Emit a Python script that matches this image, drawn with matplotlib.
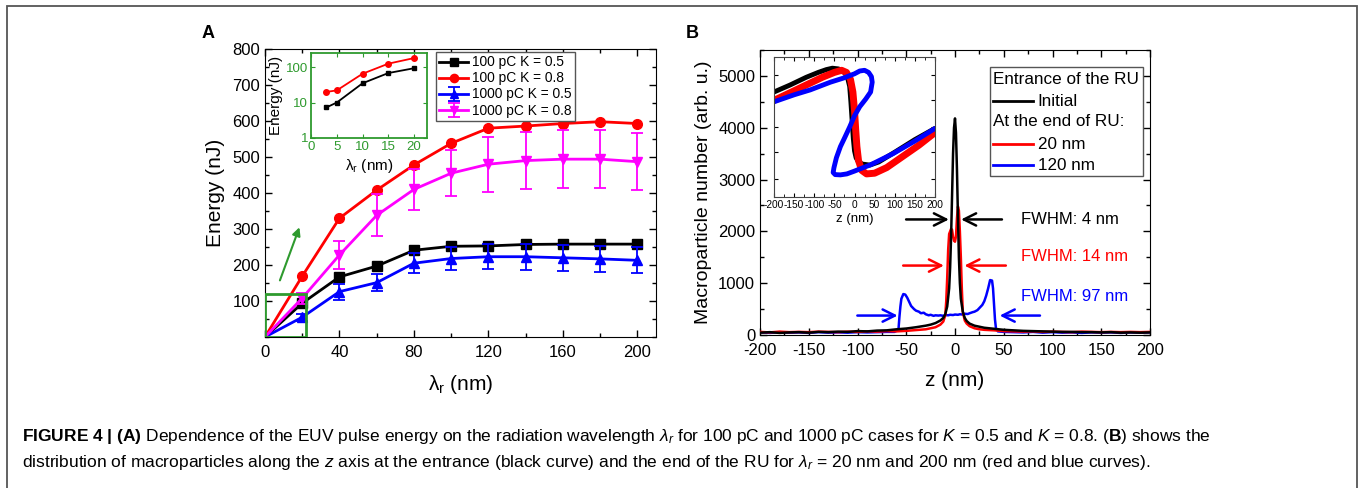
import matplotlib
matplotlib.use('Agg')
import matplotlib.pyplot as plt
from matplotlib.patches import Rectangle
from matplotlib.lines import Line2D
from matplotlib.ticker import MultipleLocator, FixedLocator, NullLocator, FixedFormatter

plt.rcParams['font.family'] = ['Liberation Sans', 'DejaVu Sans']
plt.rcParams['axes.unicode_minus'] = False
plt.rcParams['mathtext.fontset'] = 'custom'
plt.rcParams['mathtext.rm'] = 'Liberation Sans'
plt.rcParams['mathtext.it'] = 'Liberation Sans:italic'
plt.rcParams['mathtext.bf'] = 'Liberation Sans:bold'

# ---- panel A data ----
lam = [0, 20, 40, 60, 80, 100, 120, 140, 160, 180, 200]
e100_k05 = [0, 94, 167, 197, 241, 252, 253, 257, 258, 258, 258]
e100_k08 = [0, 169, 330, 408, 478, 538, 580, 586, 593, 598, 593]
e1000_k05 = [0, 55, 126, 151, 205, 218, 223, 223, 220, 217, 213]
err1000_k05 = [0, 10, 22, 24, 28, 32, 35, 36, 36, 36, 36]
e1000_k08 = [0, 108, 228, 338, 410, 455, 480, 490, 494, 494, 487]
err1000_k08 = [0, 15, 40, 58, 57, 64, 76, 79, 80, 80, 80]

# inset A (log scale)
lam_in = [3, 5, 10, 15, 20]
in_k05 = [7.3, 10, 35, 68, 93]
in_k08 = [20, 22, 65, 125, 180]

# ---- panel B data ----
z_init = [-200, -190, -180, -170, -160, -150, -140, -130, -120, -110, -100, -90, -80, -70, -60, -50,
          -40, -30, -25, -20, -15, -12, -10, -8, -6, -5, -4, -3, -2, -1, 0, 1, 2, 3, 4, 5, 6, 8, 10,
          12, 15, 20, 25, 30, 40, 50, 60, 70, 80, 90, 100, 110, 120, 130, 140, 150, 160, 170, 180, 190, 200]
n_init = [45, 55, 40, 50, 55, 45, 60, 55, 65, 60, 75, 70, 85, 90, 110, 125,
          150, 180, 200, 230, 280, 330, 400, 550, 900, 1300, 1900, 2700, 3500, 4000, 4180, 3900, 3200, 2300, 1500, 1000, 700, 450, 330,
          270, 220, 180, 160, 140, 120, 100, 90, 80, 75, 70, 65, 60, 60, 55, 55, 50, 55, 45, 50, 45, 50]

z_20 = [-200, -190, -180, -170, -160, -150, -140, -130, -120, -110, -100, -90, -80, -70, -60, -50, -40, -30,
        -25, -20, -15, -12, -10, -9, -8, -7, -6, -5, -4, -3, -2, -1, 0, 1, 2, 3, 4, 5, 6, 7, 8, 10, 12, 15,
        20, 25, 30, 40, 50, 60, 70, 80, 90, 100, 110, 120, 130, 140, 150, 160, 170, 180, 190, 200]
n_20 = [60, 50, 65, 55, 60, 55, 65, 60, 55, 65, 60, 70, 65, 75, 70, 80, 95, 110,
        130, 150, 200, 260, 380, 650, 1100, 1650, 1950, 2000, 2050, 2030, 1900, 1820, 1800, 1900, 2250, 2480, 2400, 2000, 1500, 900, 450, 280, 220, 170,
        130, 110, 100, 90, 75, 70, 65, 70, 60, 65, 60, 55, 65, 60, 55, 60, 55, 60, 55, 60]

z_120 = [-200, -190, -180, -170, -160, -150, -140, -130, -120, -110, -100, -90, -80, -70, -62, -58, -57, -56,
         -55, -53, -51, -49, -47, -45, -42, -40, -37, -35, -32, -30, -27, -25, -22, -20, -17, -15, -12, -10,
         -7, -5, -2, 0, 3, 5, 8, 10, 13, 15, 18, 20, 23, 25, 28, 30, 32, 34, 36, 38, 39, 40, 41, 42, 44, 50,
         60, 70, 80, 90, 100, 110, 120, 130, 140, 150, 160, 170, 180, 190, 200]
n_120 = [50, 40, 55, 45, 50, 40, 55, 45, 50, 45, 55, 50, 55, 60, 60, 100, 350, 550,
         700, 790, 780, 720, 640, 560, 500, 470, 450, 420, 430, 400, 380, 390, 370, 380, 375, 380, 370, 385,
         380, 390, 385, 395, 390, 400, 395, 410, 405, 420, 440, 450, 480, 520, 580, 650, 760, 900, 1060, 1050, 900, 600, 300, 130, 70, 60,
         55, 50, 60, 45, 55, 45, 50, 40, 50, 45, 50, 40, 50, 45, 50]

# inset B: phase-space bands (z, normalized momentum)
ps_z_init = [-200, -160, -120, -90, -70, -55, -40, -28, -18, -12, -9, -6, -3, 0, 4, 10, 20, 38, 60, 100, 150, 200]
ps_p_init = [0.75, 0.80, 0.855, 0.89, 0.91, 0.92, 0.915, 0.90, 0.86, 0.79, 0.68, 0.55, 0.42, 0.33, 0.28, 0.25,
             0.235, 0.228, 0.25, 0.32, 0.41, 0.49]
ps_z_20 = [-200, -160, -120, -80, -50, -32, -20, -10, -4, 0, 3, 6, 10, 18, 30, 50, 80, 120, 160, 200]
ps_p_20 = [0.69, 0.745, 0.80, 0.855, 0.89, 0.905, 0.89, 0.84, 0.75, 0.62, 0.48, 0.36, 0.26, 0.19, 0.165, 0.17,
           0.21, 0.29, 0.37, 0.46]
ps_z_120 = [-200, -150, -110, -60, -27, 0, 13, 25, 35, 42, 44, 40, 28, 13, 0, -12, -25, -35, -45, -51, -53, -48,
            -35, -19, 0, 13, 40, 96, 150, 200]
ps_p_120 = [0.68, 0.73, 0.765, 0.82, 0.85, 0.88, 0.90, 0.905, 0.89, 0.86, 0.82, 0.75, 0.70, 0.645, 0.58, 0.50,
            0.42, 0.36, 0.28, 0.21, 0.175, 0.16, 0.158, 0.165, 0.185, 0.20, 0.23, 0.31, 0.40, 0.49]

green = '#2e9a2e'
W, H = 1360, 488

fig = plt.figure(figsize=(13.6, 4.88), dpi=100)


def fx(px):
    return px / W


def fy(py):
    return 1 - py / H


def style_ticks(ax, size=10.5):
    ax.tick_params(which='both', direction='in', top=True, right=True, labelsize=size)
    ax.tick_params(which='major', length=5, width=1)
    ax.tick_params(which='minor', length=3, width=1)
    ax.tick_params(axis='x', pad=6)


# ================= panel A =================
axA = fig.add_axes([fx(265), fy(337), fx(656 - 265), (337 - 49) / H])
axA.plot(lam, e100_k05, '-s', color='black', lw=2, ms=6.5, markevery=slice(1, None), label='100 pC K = 0.5')
axA.plot(lam, e100_k08, '-o', color='red', lw=2, ms=7, markevery=slice(1, None), label='100 pC K = 0.8')
axA.errorbar(lam, e1000_k05, yerr=err1000_k05, fmt='-^', color='blue', lw=2, ms=7, capsize=4,
             elinewidth=1.3, capthick=1.3, markevery=slice(1, None), errorevery=(1, 1), label='1000 pC K = 0.5')
axA.errorbar(lam, e1000_k08, yerr=err1000_k08, fmt='-v', color='magenta', lw=2, ms=7, capsize=4,
             elinewidth=1.3, capthick=1.3, markevery=slice(1, None), errorevery=(1, 1), label='1000 pC K = 0.8')
axA.add_patch(Rectangle((0, 0), 22, 120, fill=False, ec=green, lw=2, zorder=5))
axA.annotate('', xy=(19, 312), xytext=(7.5, 150),
             arrowprops=dict(arrowstyle='-|>', color=green, lw=1.5, mutation_scale=12))
axA.set_xlim(0, 210)
axA.set_ylim(0, 800)
axA.xaxis.set_major_locator(MultipleLocator(40))
axA.xaxis.set_minor_locator(MultipleLocator(20))
axA.set_yticks([100, 200, 300, 400, 500, 600, 700, 800])
axA.yaxis.set_minor_locator(MultipleLocator(50))
style_ticks(axA, 12)
axA.set_xlabel('λ$_\\mathregular{r}$ (nm)', fontsize=15, labelpad=9)
axA.set_ylabel('Energy (nJ)', fontsize=15, labelpad=5)
leg = axA.legend(loc='upper left', bbox_to_anchor=(0.437, 0.99), borderaxespad=0, fancybox=False,
                 fontsize=9.9, handlelength=2.1, labelspacing=0.15, borderpad=0.25, handletextpad=0.3,
                 edgecolor='#555555', framealpha=1, markerscale=0.85)
leg.get_frame().set_linewidth(1)

# inset A
axAi = fig.add_axes([fx(311), fy(138), fx(427 - 311), (138 - 53) / H])
axAi.semilogy(lam_in, in_k05, '-s', color='black', lw=1.3, ms=3.5)
axAi.semilogy(lam_in, in_k08, '-o', color='red', lw=1.3, ms=4)
axAi.set_xlim(0, 22.5)
axAi.set_ylim(1, 250)
axAi.xaxis.set_major_locator(MultipleLocator(5))
axAi.yaxis.set_major_locator(FixedLocator([1, 10, 100]))
axAi.yaxis.set_major_formatter(FixedFormatter(['1', '10', '100']))
axAi.yaxis.set_minor_locator(NullLocator())
axAi.tick_params(which='both', direction='in', top=True, right=True, labelsize=9.5,
                 colors=green, labelcolor=green, length=3, pad=2)
for s in axAi.spines.values():
    s.set_color(green)
    s.set_linewidth(1.3)
axAi.set_xlabel('λ$_\\mathregular{r}$ (nm)', fontsize=11, labelpad=3)
axAi.set_ylabel('Energy (nJ)', fontsize=11, labelpad=2)

fig.text(fx(208), fy(33), 'A', fontsize=13, fontweight='bold', ha='center', va='center')

# ================= panel B =================
axB = fig.add_axes([fx(760), fy(335), fx(1150 - 760), (335 - 50) / H])
axB.plot(z_init, n_init, color='black', lw=1.8, zorder=4)
axB.plot(z_20, n_20, color='red', lw=1.8, zorder=3)
axB.plot(z_120, n_120, color='blue', lw=1.8, zorder=2)
axB.set_xlim(-200, 200)
axB.set_ylim(0, 5500)
axB.xaxis.set_major_locator(MultipleLocator(50))
axB.xaxis.set_minor_locator(MultipleLocator(25))
axB.yaxis.set_major_locator(MultipleLocator(1000))
axB.yaxis.set_minor_locator(MultipleLocator(500))
style_ticks(axB, 12)
axB.set_xlabel('z (nm)', fontsize=15, labelpad=9)
axB.set_ylabel('Macroparticle number (arb. u.)', fontsize=14, labelpad=4)

# FWHM arrows
arrow_kw = dict(arrowstyle='->', lw=1.8, mutation_scale=22)
for (x0, x1, y, col) in [(-53, -3.4, 2230, 'black'), (51, 3.4, 2230, 'black'),
                         (-56, -8.5, 1340, 'red'), (55, 6.8, 1340, 'red'),
                         (-103, -56, 375, 'blue'), (90, 43, 375, 'blue')]:
    axB.annotate('', xy=(x1, y), xytext=(x0, y), arrowprops=dict(color=col, **arrow_kw), zorder=6)
axB.text(68, 2230, 'FWHM: 4 nm', color='black', fontsize=12, va='center')
axB.text(68, 1520, 'FWHM: 14 nm', color='red', fontsize=12, va='center')
axB.text(68, 745, 'FWHM: 97 nm', color='blue', fontsize=12, va='center')

# manual legend box
axB.add_patch(Rectangle((0.59, 0.558), 0.392, 0.382, transform=axB.transAxes, fill=True, fc='white',
                        ec='#555555', lw=1, zorder=7))
lg_rows = [(0.897, 'Entrance of the RU', None), (0.821, 'Initial', 'black'),
           (0.748, 'At the end of RU:', None), (0.670, '20 nm', 'red'), (0.596, '120 nm', 'blue')]
for yy, txt, col in lg_rows:
    if col is None:
        axB.text(0.598, yy, txt, transform=axB.transAxes, fontsize=12.3, va='center', zorder=8)
    else:
        axB.add_line(Line2D([0.598, 0.70], [yy, yy], transform=axB.transAxes, color=col, lw=2, zorder=8))
        axB.text(0.712, yy, txt, transform=axB.transAxes, fontsize=12.3, va='center', zorder=8)

# inset B
axBi = fig.add_axes([fx(774), fy(197), fx(935 - 774), (197 - 57) / H])
axBi.plot(ps_z_init, ps_p_init, color='black', lw=3.5, solid_capstyle='round', solid_joinstyle='round')
axBi.plot(ps_z_20, ps_p_20, color='red', lw=5, solid_capstyle='round', solid_joinstyle='round')
axBi.plot(ps_z_120, ps_p_120, color='blue', lw=3.5, solid_capstyle='round', solid_joinstyle='round')
axBi.set_xlim(-200, 200)
axBi.set_ylim(0, 1)
axBi.xaxis.set_major_locator(MultipleLocator(50))
axBi.xaxis.set_minor_locator(MultipleLocator(25))
axBi.yaxis.set_major_locator(FixedLocator([0.13, 0.32, 0.5, 0.69, 0.87]))
axBi.yaxis.set_minor_locator(NullLocator())
axBi.tick_params(which='both', direction='in', top=True, right=True, labelsize=7.3, length=3, pad=2,
                 labelleft=False)
axBi.tick_params(which='minor', length=2)
axBi.set_xlabel('z (nm)', fontsize=9.5, labelpad=2)
for s in axBi.spines.values():
    s.set_color('#444444')

fig.text(fx(692), fy(33), 'B', fontsize=13, fontweight='bold', ha='center', va='center')

# ================= caption =================
line1 = (r'$\mathbf{FIGURE\ 4\ |\ (A)}$ Dependence of the EUV pulse energy on the radiation wavelength '
         r'$\mathit{\lambda_r}$ for 100 pC and 1000 pC cases for $\mathit{K}$ = 0.5 and $\mathit{K}$ = 0.8. '
         r'($\mathbf{B}$) shows the')
line2 = (r'distribution of macroparticles along the $\mathit{z}$ axis at the entrance (black curve) and the end '
         r'of the RU for $\mathit{\lambda_r}$ = 20 nm and 200 nm (red and blue curves).')
fig.text(fx(22), fy(437), line1, fontsize=12.5, va='center')
fig.text(fx(22), fy(462), line2, fontsize=12.5, va='center')

# outer frame
fig.add_artist(Rectangle((fx(7), -0.05), fx(1350), fy(6) + 0.05, transform=fig.transFigure,
                         fill=False, ec='#555555', lw=1.3))

fig.savefig('out.png', dpi=100)
